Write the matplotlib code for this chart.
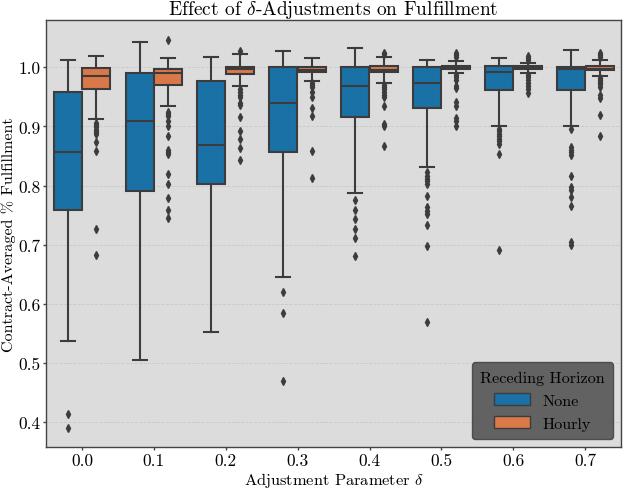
import numpy as np
import matplotlib
matplotlib.use("Agg")
import matplotlib.pyplot as plt
from matplotlib.patches import Patch

plt.rcParams['font.family'] = 'serif'
plt.rcParams['font.serif'] = ['cmr10', 'DejaVu Serif']
plt.rcParams['mathtext.fontset'] = 'cm'
plt.rcParams['axes.formatter.use_mathtext'] = True
plt.rcParams['axes.unicode_minus'] = False

# categories and hue levels
deltas = ['0.0', '0.1', '0.2', '0.3', '0.4', '0.5', '0.6', '0.7']
horizons = ['None', 'Hourly']

# box stats: no receding horizon
none_lo = [0.537, 0.505, 0.553, 0.645, 0.788, 0.832, 0.900, 0.901]
none_q1 = [0.758, 0.790, 0.802, 0.857, 0.916, 0.932, 0.961, 0.962]
none_med = [0.857, 0.910, 0.868, 0.939, 0.968, 0.974, 0.992, 0.997]
none_q3 = [0.958, 0.990, 0.977, 1.000, 1.000, 1.000, 1.002, 1.001]
none_hi = [1.012, 1.043, 1.018, 1.028, 1.032, 1.012, 1.015, 1.030]
none_fliers = [
    [0.413, 0.390],
    [],
    [],
    [0.620, 0.584, 0.469],
    [0.776, 0.759, 0.744, 0.727, 0.711, 0.681],
    [0.823, 0.817, 0.811, 0.807, 0.802, 0.782, 0.763, 0.757, 0.752, 0.733, 0.697, 0.570],
    [0.896, 0.892, 0.888, 0.884, 0.879, 0.875, 0.870, 0.854, 0.691],
    [0.896, 0.866, 0.861, 0.856, 0.851, 0.817, 0.797, 0.793, 0.780, 0.765, 0.705, 0.700],
]

# box stats: hourly receding horizon
hourly_lo = [0.913, 0.935, 0.968, 0.977, 0.973, 0.990, 0.991, 0.986]
hourly_q1 = [0.964, 0.970, 0.988, 0.992, 0.992, 0.997, 0.997, 0.995]
hourly_med = [0.985, 0.990, 0.998, 0.996, 0.996, 0.999, 1.000, 0.998]
hourly_q3 = [0.999, 0.998, 1.001, 1.000, 1.002, 1.003, 1.002, 1.002]
hourly_hi = [1.019, 1.015, 1.022, 1.016, 1.018, 1.011, 1.008, 1.012]
hourly_fliers = [
    [0.906, 0.902, 0.899, 0.894, 0.890, 0.887, 0.873, 0.859, 0.726, 0.682],
    [1.047, 0.924, 0.921, 0.917, 0.909, 0.901, 0.884, 0.861, 0.857, 0.854, 0.819, 0.803, 0.779, 0.759, 0.745],
    [1.027, 0.963, 0.959, 0.954, 0.950, 0.940, 0.936, 0.916, 0.892, 0.879, 0.864, 0.843],
    [0.973, 0.970, 0.966, 0.958, 0.949, 0.932, 0.918, 0.859, 0.812],
    [1.025, 1.022, 0.970, 0.967, 0.964, 0.959, 0.953, 0.949, 0.935, 0.904, 0.901, 0.867],
    [1.025, 1.021, 1.017, 0.987, 0.983, 0.978, 0.968, 0.965, 0.941, 0.935, 0.914, 0.909, 0.901],
    [1.019, 1.015, 1.012, 0.987, 0.983, 0.978, 0.973, 0.969, 0.964, 0.957],
    [1.024, 1.021, 1.017, 0.982, 0.979, 0.975, 0.971, 0.967, 0.953, 0.948, 0.919, 0.884],
]

colors = ['#1a71a6', '#d9794a']
line_col = '#3c3c3c'


def make_stats(lo, q1, med, q3, hi, fl):
    return [dict(whislo=a, q1=b, med=c, q3=d, whishi=e, fliers=f)
            for a, b, c, d, e, f in zip(lo, q1, med, q3, hi, fl)]


series = [
    make_stats(none_lo, none_q1, none_med, none_q3, none_hi, none_fliers),
    make_stats(hourly_lo, hourly_q1, hourly_med, hourly_q3, hourly_hi, hourly_fliers),
]

fig, ax = plt.subplots(figsize=(6.23, 4.89), dpi=100)
fig.subplots_adjust(left=0.074, right=0.997, top=0.957, bottom=0.084)
ax.set_facecolor('#dcdcdc')

x = np.arange(len(deltas))
for k, stats in enumerate(series):
    pos = x + (k - 0.5) * 0.4
    ax.bxp(stats, positions=pos, widths=0.39, patch_artist=True, manage_ticks=False,
           boxprops=dict(facecolor=colors[k], edgecolor=line_col, linewidth=1.5),
           medianprops=dict(color=line_col, linewidth=1.5),
           whiskerprops=dict(color=line_col, linewidth=1.5),
           capprops=dict(color=line_col, linewidth=1.5),
           flierprops=dict(marker='d', markersize=4, markerfacecolor=line_col,
                           markeredgecolor=line_col, linestyle='none'),
           zorder=2)

ax.set_xticks(x)
ax.set_xticklabels(deltas)
ax.set_xlim(-0.5, len(deltas) - 0.5)
ax.set_ylim(0.358, 1.080)
ax.set_yticks(np.arange(0.4, 1.01, 0.1))
ax.set_yticklabels([f'{v:.1f}' for v in np.arange(0.4, 1.01, 0.1)])
ax.tick_params(labelsize=12.5, length=2.5, width=1, color='#444444', pad=1.5)
ax.yaxis.grid(True, linestyle='--', linewidth=0.6, color='#c8c8c8', zorder=0)
ax.set_axisbelow(True)
for s in ax.spines.values():
    s.set_color('#444444')
    s.set_linewidth(1.0)

ax.set_xlabel(r'Adjustment Parameter $\delta$', fontsize=11.8)
ax.set_ylabel(r'Contract-Averaged % Fulfillment', fontsize=11.5)
ax.xaxis.set_label_coords(0.5, -0.054)
ax.yaxis.set_label_coords(-0.052, 0.5)
ax.set_title(r'Effect of $\delta$-Adjustments on Fulfillment', fontsize=14, pad=3)

handles = [Patch(facecolor=colors[k], edgecolor=line_col, linewidth=1, label=horizons[k])
           for k in range(len(horizons))]
leg = ax.legend(handles=handles, title='Receding Horizon', loc='lower right',
                fontsize=11.7, title_fontsize=11.7, fancybox=True,
                facecolor='#555555', edgecolor='#444444', framealpha=0.9,
                borderpad=0.5, handlelength=2.2, handleheight=0.8,
                borderaxespad=0.5)

fig.savefig('out.png', dpi=100)
